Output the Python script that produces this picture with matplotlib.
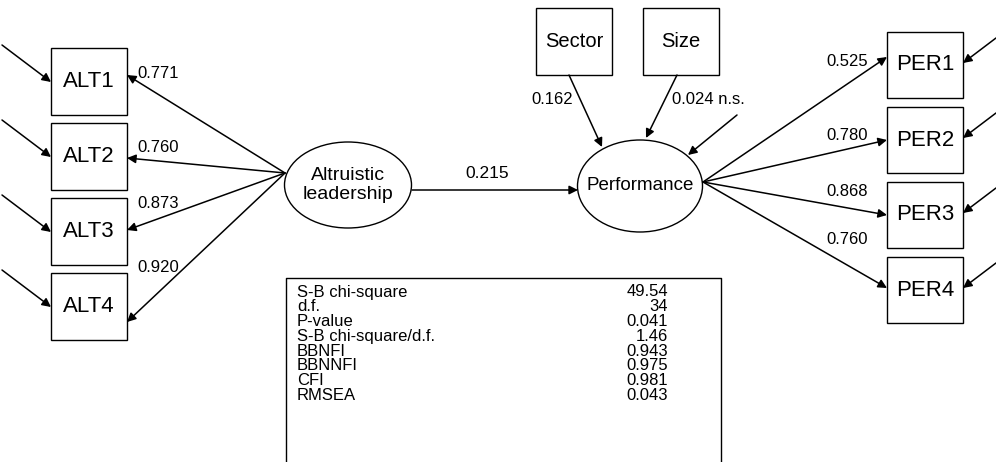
import matplotlib.pyplot as plt
from matplotlib.patches import Rectangle, Ellipse

plt.rcParams['font.family'] = ['Liberation Sans', 'DejaVu Sans']

# loadings and paths
alt_items = ['ALT1', 'ALT2', 'ALT3', 'ALT4']
alt_loadings = ['0.771', '0.760', '0.873', '0.920']
per_items = ['PER1', 'PER2', 'PER3', 'PER4']
per_loadings = ['0.525', '0.780', '0.868', '0.760']
path_alt_per = '0.215'
control_names = ['Sector', 'Size']
control_paths = ['0.162', '0.024 n.s.']

# fit indices
fit_names = ['S-B chi-square', 'd.f.', 'P-value', 'S-B chi-square/d.f.',
             'BBNFI', 'BBNNFI', 'CFI', 'RMSEA']
fit_values = ['49.54', '34', '0.041', '1.46', '0.943', '0.975', '0.981', '0.043']

fig = plt.figure(figsize=(9.96, 4.62), dpi=100)
ax = fig.add_axes([0, 0, 1, 1])
ax.set_xlim(0, 996)
ax.set_ylim(462, 0)
ax.axis('off')

def arrow(x0, y0, x1, y1):
    ax.annotate('', xy=(x1, y1), xytext=(x0, y0),
                arrowprops=dict(arrowstyle='-|>', color='black', lw=1.1,
                                mutation_scale=13, shrinkA=0, shrinkB=0))

def box(x, y, w, h, text, fs):
    ax.add_patch(Rectangle((x, y), w, h, fill=False, ec='black', lw=1.0))
    ax.text(x + w / 2, y + h / 2, text, ha='center', va='center', fontsize=fs)

# left block
alt_top = [48, 123, 198, 273]
alt_head = [75, 158, 230, 322]
alt_lab_y = [73, 147, 204, 268]
for i, name in enumerate(alt_items):
    box(51, alt_top[i], 76, 67, name, 16)
    arrow(2, alt_top[i] - 3, 51, alt_top[i] + 34)
    arrow(285, 173, 127, alt_head[i])
    ax.text(137, alt_lab_y[i], alt_loadings[i], ha='left', va='center', fontsize=12)

ax.add_patch(Ellipse((348, 185), 127, 86, fill=False, ec='black', lw=1.0))
ax.text(348, 185, 'Altruistic\nleadership', ha='center', va='center',
        fontsize=14, linespacing=1.1)

arrow(412, 190, 578, 190)
ax.text(487, 173, path_alt_per, ha='center', va='center', fontsize=12.5)

ax.add_patch(Ellipse((640, 186), 125, 92, fill=False, ec='black', lw=1.0))
ax.text(640, 186, 'Performance', ha='center', va='center', fontsize=13.5)

# controls
box(536, 8, 76, 67, control_names[0], 14.5)
box(643, 8, 76, 67, control_names[1], 14.5)
arrow(569, 75, 602, 147)
arrow(677, 75, 646, 138)
ax.text(552, 99, control_paths[0], ha='center', va='center', fontsize=12)
ax.text(672, 99, control_paths[1], ha='left', va='center', fontsize=12)
arrow(737, 115, 688, 155)

# right block
per_top = [32, 107, 182, 257]
per_head = [57, 140, 215, 288]
per_lab_y = [61, 135, 192, 240]
for i, name in enumerate(per_items):
    box(887, per_top[i], 76, 66, name, 16)
    arrow(996, per_top[i] + 6, 963, per_top[i] + 31)
    arrow(703, 182, 887, per_head[i])
    ax.text(868, per_lab_y[i], per_loadings[i], ha='right', va='center', fontsize=12)

# fit table
ax.plot([286, 286, 721, 721], [470, 278, 278, 470], color='black', lw=1.0)
for i in range(len(fit_names)):
    y = 292 + i * 14.8
    ax.text(297, y, fit_names[i], ha='left', va='center', fontsize=12)
    ax.text(668, y, fit_values[i], ha='right', va='center', fontsize=12)

fig.savefig('out.png', dpi=100)
